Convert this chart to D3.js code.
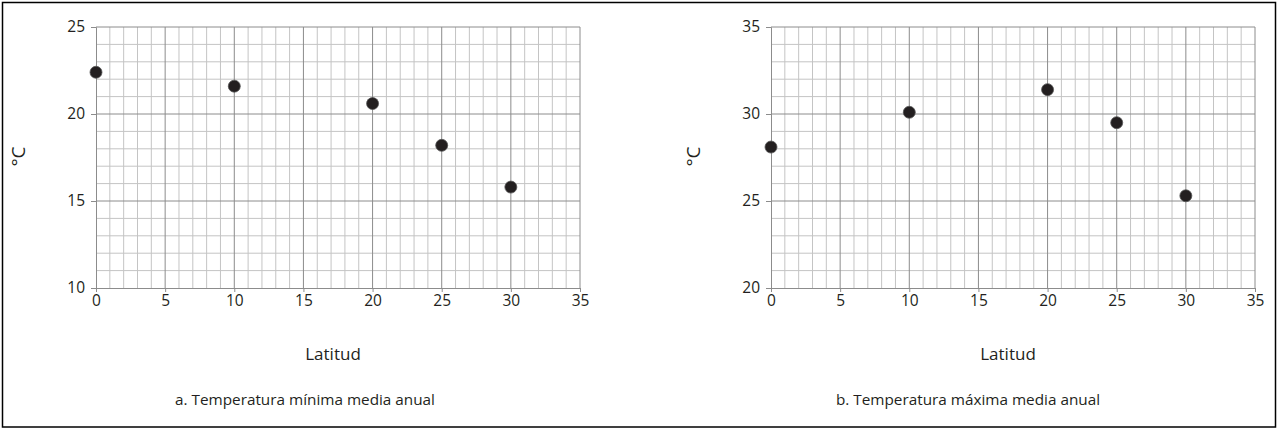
<!DOCTYPE html>
<html>
<head>
<meta charset="utf-8">
<script src="https://cdn.jsdelivr.net/npm/d3@7"></script>
<style>
  body { margin: 0; background: #fff; }
  svg text { font-family: "Open Sans", "Noto Sans", sans-serif; fill: #231f20; }
</style>
</head>
<body>
<svg width="1279" height="430"></svg>
<script>
// latitudes sampled
var latitudes = [0, 10, 20, 25, 30];
// temperatures (°C)
var tempMin = [22.4, 21.6, 20.6, 18.2, 15.8];
var tempMax = [28.1, 30.1, 31.4, 29.5, 25.3];

var xTicks = [0, 5, 10, 15, 20, 25, 30, 35];
var yTicksMin = [10, 15, 20, 25];
var yTicksMax = [20, 25, 30, 35];
var captions = ["a. Temperatura mínima media anual", "b. Temperatura máxima media anual"];

var svg = d3.select("svg");

// frame round the whole figure
svg.append("rect")
    .attr("x", 2.5).attr("y", 2.5)
    .attr("width", 1273).attr("height", 424.5)
    .attr("fill", "none")
    .attr("stroke", "#000")
    .attr("stroke-width", 1.5);

var width = 484, height = 261;

function panel(left, values, yTicks, caption, capX) {
    var x = d3.scaleLinear().domain([0, 35]).range([0, width]);
    var y = d3.scaleLinear().domain([yTicks[0], yTicks[yTicks.length - 1]]).range([height, 0]);

    var g = svg.append("g").attr("transform", "translate(" + left + ",27)");

    // minor grid, every unit
    var minorX = d3.range(1, 36).filter(d => d % 5 != 0);
    var minorY = d3.range(y.domain()[0] + 1, y.domain()[1] + 1).filter(d => d % 5 != 0);

    g.selectAll(".vminor").data(minorX).enter().append("line")
        .attr("x1", d => x(d)).attr("x2", d => x(d))
        .attr("y1", 0).attr("y2", height)
        .attr("stroke", "#c4c4c4").attr("stroke-width", 1);
    g.selectAll(".hminor").data(minorY).enter().append("line")
        .attr("x1", 0).attr("x2", width)
        .attr("y1", d => y(d)).attr("y2", d => y(d))
        .attr("stroke", "#c4c4c4").attr("stroke-width", 1);

    // major grid
    g.selectAll(".vmajor").data(xTicks.slice(1)).enter().append("line")
        .attr("x1", d => x(d)).attr("x2", d => x(d))
        .attr("y1", 0).attr("y2", height)
        .attr("stroke", "#8c8c8c").attr("stroke-width", 1);
    g.selectAll(".hmajor").data(yTicks.slice(1)).enter().append("line")
        .attr("x1", 0).attr("x2", width)
        .attr("y1", d => y(d)).attr("y2", d => y(d))
        .attr("stroke", "#8c8c8c").attr("stroke-width", 1);

    var xAxis = g.append("g")
        .attr("transform", "translate(0," + height + ")")
        .call(d3.axisBottom(x).tickValues(xTicks).tickSize(4).tickPadding(3));
    var yAxis = g.append("g")
        .call(d3.axisLeft(y).tickValues(yTicks).tickSize(5).tickPadding(6));

    [xAxis, yAxis].forEach(function(a) {
        a.select(".domain").attr("stroke", "#8c8c8c");
        a.selectAll(".tick line").attr("stroke", "#8c8c8c");
        a.selectAll(".tick text")
            .style("font-size", "15.5px")
            .attr("fill", "#231f20");
    });

    g.selectAll(".dot")
        .data(latitudes)
        .enter()
      .append("circle")
        .attr("cx", d => x(d))
        .attr("cy", (d, i) => y(values[i]))
        .attr("r", 6)
        .attr("fill", "#231f20")
        .attr("stroke", "#555")
        .attr("stroke-width", 0.8);

    g.append("text")
        .attr("transform", "translate(" + (-78) + "," + (height / 2 - 1) + ") rotate(-90)")
        .attr("text-anchor", "middle")
        .attr("dy", "0.35em")
        .style("font-size", "19px")
        .text("°C");

    g.append("text")
        .attr("x", 237)
        .attr("y", 333)
        .attr("text-anchor", "middle")
        .style("font-size", "17px")
        .text("Latitud");

    g.append("text")
        .attr("x", capX)
        .attr("y", 378)
        .attr("text-anchor", "middle")
        .style("font-size", "15.3px")
        .text(caption);
}

panel(96, tempMin, yTicksMin, captions[0], 209);
panel(771, tempMax, yTicksMax, captions[1], 197);
</script>
</body>
</html>
